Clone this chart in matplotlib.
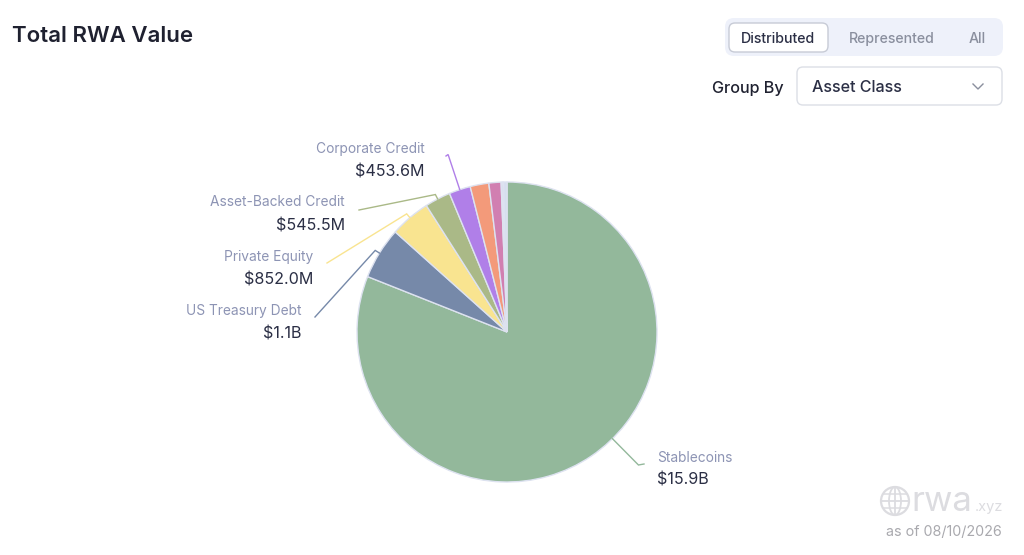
import numpy as np
import matplotlib.pyplot as plt
from matplotlib.patches import FancyBboxPatch, Circle, Ellipse

plt.rcParams['font.family'] = ['Inter', 'DejaVu Sans']

# data (values in millions of USD)
categories = ['Stablecoins', 'US Treasury Debt', 'Private Equity', 'Asset-Backed Credit',
              'Corporate Credit', 'Institutional Funds', 'Commodities',
              'Non-US Government Debt', 'Actively-Managed Strategies', 'Other']
values = [15900, 1100, 852.0, 545.5, 453.6, 394, 257, 33, 19, 71]
colors = ['#93b89b', '#7689a9', '#f9e490', '#aab987', '#b07fe8', '#f39a7a',
          '#d17fb1', '#e2ddf5', '#6674e8', '#d6deef']

# which slices get a label, and where the label goes (pixel layout)
labelled = [0, 1, 2, 3, 4]
line_len = [37, 5, 5, 5, 37]
start_shift = [-10.5, 0, 0, 0, 0]          # degrees, label line start moved along the rim
line_end = [(644, 464), (315, 317), (327, 263), (359, 210), (446, 156)]
text_pos = [(657, 456, 'left'), (301, 309, 'right'), (313, 255, 'right'),
            (345, 201, 'right'), (425, 147, 'right')]

cx, cy, R = 507, 332, 150
NAME_COL = '#8d94b4'
VAL_COL = '#2b2f45'
DY = 1.5   # small nudge, Inter sits a bit high with va='center'


def fmt(v):
    if v >= 1000:
        return '$%.1fB' % (v / 1000)
    return '$%.1fM' % v


fig = plt.figure(figsize=(10.24, 5.55), dpi=100)
ax = fig.add_axes([0, 0, 1, 1])

# y axis runs downward, so counterclock=True draws clockwise on screen
ax.pie(values, colors=colors, center=(cx, cy), radius=R, startangle=-90,
       counterclock=True, wedgeprops=dict(edgecolor='#dde2f0', linewidth=1.0))
ax.set_xlim(0, 1024)
ax.set_ylim(555, 0)
ax.set_aspect('auto')
ax.axis('off')

# leader lines + labels
total = float(np.sum(values))
cum = np.cumsum([0] + values)
for k, i in enumerate(labelled):
    mid = (cum[i] + cum[i + 1]) / 2 / total * 360 + start_shift[k]  # clockwise from top
    a = np.radians(mid)
    d = np.array([np.sin(a), -np.cos(a)])
    p0 = np.array([cx, cy]) + R * d
    p1 = p0 + line_len[k] * d
    p2 = line_end[k]
    ax.plot([p0[0], p1[0], p2[0]], [p0[1], p1[1], p2[1]], color=colors[i], lw=1.0,
            solid_joinstyle='miter')
    tx, ty, ha = text_pos[k]
    ax.text(tx, ty + DY, categories[i], color=NAME_COL, fontsize=9.9, ha=ha, va='center')
    ax.text(tx, ty + 23 + DY, fmt(values[i]), color=VAL_COL, fontsize=11.6, ha=ha,
            va='center')

# title
ax.text(12, 34 + DY, 'Total RWA Value', fontsize=16, fontweight='semibold', color='#1f2130',
        va='center', ha='left')

# toggle
ax.add_patch(FancyBboxPatch((725, 18), 278, 38, boxstyle='round,pad=0,rounding_size=9',
                            fc='#eef1fa', ec='none'))
ax.add_patch(FancyBboxPatch((729, 23), 99, 29, boxstyle='round,pad=0,rounding_size=6',
                            fc='white', ec='#c7cbd6', lw=1.0))
ax.text(778.5, 37.5 + DY, 'Distributed', fontsize=10.2, fontweight='medium', color='#2b2f45',
        ha='center', va='center')
ax.text(892, 37.5 + DY, 'Represented', fontsize=10.2, fontweight='medium', color='#8a8f9e',
        ha='center', va='center')
ax.text(977, 37.5 + DY, 'All', fontsize=10.2, fontweight='medium', color='#8a8f9e',
        ha='center', va='center')

# group by dropdown
ax.text(712, 86.5 + DY, 'Group By', fontsize=11.6, fontweight='medium', color='#1f2130',
        ha='left', va='center')
ax.add_patch(FancyBboxPatch((797, 67), 205, 38, boxstyle='round,pad=0,rounding_size=6',
                            fc='white', ec='#dcdfe6', lw=1.0))
ax.text(812, 86.5 + DY, 'Asset Class', fontsize=11.6, fontweight='medium', color='#2b2f45',
        ha='left', va='center')
ax.plot([973, 978, 983], [84, 89, 84], color='#8a8f9e', lw=1.0)

# watermark
gc = '#dcdce0'
ax.add_patch(Circle((895, 501), 14, fc='none', ec=gc, lw=1.6))
ax.add_patch(Ellipse((895, 501), 12, 28, fc='none', ec=gc, lw=1.3))
ax.plot([895, 895], [487, 515], color=gc, lw=1.3)
ax.plot([881, 909], [501, 501], color=gc, lw=1.3)
ax.plot([883.5, 906.5], [494, 494], color=gc, lw=1.1)
ax.plot([883.5, 906.5], [508, 508], color=gc, lw=1.1)
ax.text(911, 511, 'rwa', fontsize=25, color=gc, ha='left', va='baseline')
ax.text(975, 511, '.xyz', fontsize=10.5, color=gc, ha='left', va='baseline')
ax.text(1002, 531 + DY, 'as of 08/10/2026', fontsize=10.3, color='#a9a9ae', ha='right',
        va='center')

fig.savefig('out.png', dpi=100)
